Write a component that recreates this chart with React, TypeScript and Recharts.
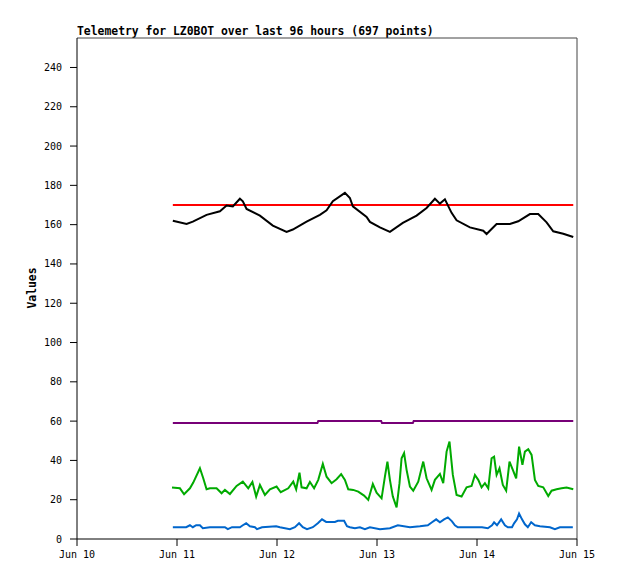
import React from "react"
import { LineChart, Line, XAxis, YAxis, ReferenceLine } from "recharts"

// x values are hours since Jun 10 00:00
const DAY_LABELS = ["Jun 10", "Jun 11", "Jun 12", "Jun 13", "Jun 14", "Jun 15"]
const X_TICKS = [0, 24, 48, 72, 96, 120]
const Y_TICKS = [0, 20, 40, 60, 80, 100, 120, 140, 160, 180, 200, 220, 240]

const LIMIT_HOURS = [23, 119.1]
const LIMIT_VALUES = [170, 170]

const TEMP_HOURS = [
  23, 26.3, 27.8, 31.1, 34.3, 35.9, 37.4, 39.1, 39.8, 40.7, 43.9, 47, 50.3, 51.8,
  55.1, 58.3, 59.9, 61.4, 64.3, 65.5, 66.2, 69.5, 70.3, 72.7, 75.1, 78.2, 81.5,
  83.9, 85.9, 87.1, 88.3, 89.9, 91.1, 94.3, 97.5, 98.3, 100.7, 103.9, 105.9,
  108.7, 110.7, 112.7, 114.3, 116.7, 119.1,
]
const TEMP_VALUES = [
  162, 160.3, 161.5, 165, 166.8, 169.7, 169.3, 173.2, 171.9, 168, 164.6, 159.5,
  156.3, 157.5, 161.5, 165, 167.3, 171.9, 176.2, 173.6, 169.3, 163.9, 161.4,
  158.6, 156.3, 160.9, 164.6, 168.5, 173.2, 170.7, 172.9, 166, 162.2, 158.6,
  156.9, 155.2, 160.3, 160.3, 161.7, 165.4, 165.4, 161.2, 156.6, 155.4, 153.7,
]

const LEVEL_HOURS = [23, 57.7, 57.9, 73.0, 73.2, 80.6, 80.8, 119.1]
const LEVEL_VALUES = [59, 59, 60, 60, 59, 59, 60, 60]

const NOISE_HOURS = [
  22.8, 24.7, 25.7, 27.1, 27.9, 29.5, 30.3, 31.1, 31.9, 33.5, 34.7, 35.5, 36.7,
  38.3, 39.8, 41.1, 42.1, 43, 43.9, 45.1, 46.3, 47.9, 48.9, 50.7, 51.9, 52.6,
  53.4, 53.9, 55.1, 55.9, 56.9, 57.9, 59, 59.9, 61.1, 62.3, 63.4, 64.3, 65.1,
  66.3, 67.5, 68.9, 69.9, 71, 71.9, 73.1, 73.9, 74.5, 75.1, 75.8, 76.7, 77.4,
  77.9, 78.5, 79.1, 79.9, 80.7, 81.9, 83.1, 83.9, 85.1, 85.9, 87.1, 87.9, 88.7,
  89.4, 90.2, 91.1, 92.3, 93.5, 94.7, 95.5, 96.3, 97.1, 97.9, 98.7, 99.5, 100.1,
  100.7, 101.4, 102.2, 103, 103.8, 104.6, 105.4, 106.1, 106.9, 107.5, 108.3,
  109.1, 109.9, 110.7, 111.9, 113.1, 113.9, 115.1, 116.3, 117.5, 119.1,
]
const NOISE_VALUES = [
  26.2, 25.8, 22.8, 25.8, 28.7, 36, 30.9, 25.3, 25.8, 25.8, 23.3, 25, 22.9, 27,
  29.2, 25.8, 29, 21.6, 27.5, 22.4, 25.3, 26.7, 23.8, 25.8, 29.2, 25.3, 33.8,
  26.3, 25.8, 29, 25.8, 30.1, 38.2, 31.7, 28.4, 30.4, 33, 30.1, 25.3, 25, 24.1,
  22.1, 19.9, 28, 23.6, 20.7, 31.7, 39.4, 30.1, 21.6, 16.1, 28.4, 41.1, 43.7,
  35.2, 26.7, 24.6, 29.2, 39.4, 30.9, 25, 30.1, 33.1, 28.4, 44.5, 49.6, 32.6,
  22.4, 21.6, 26.3, 27, 32.6, 30.1, 26.3, 28.4, 25.8, 41.1, 41.9, 32.6, 36, 27.5,
  24.6, 39.4, 35.2, 30.9, 47, 37.7, 44.5, 45.7, 42.8, 30.1, 27, 26.3, 21.9, 24.6,
  25.3, 25.8, 26.2, 25.3,
]

const LOW_HOURS = [
  23, 26.2, 27.1, 27.8, 28.6, 29.5, 30.2, 31.9, 35.5, 36.2, 37.2, 39.1, 39.8,
  40.6, 41.5, 42.7, 43.2, 44.4, 47.8, 48.7, 51.1, 52.3, 53.3, 54.2, 55.2, 56.6,
  57.8, 58.8, 59.8, 61.9, 62.6, 64.1, 64.8, 65.5, 66.7, 67.9, 69.1, 70.3, 72.7,
  75.1, 77, 79.9, 82.3, 84.2, 85.2, 86.2, 87.1, 88.1, 89, 90, 90.7, 91.4, 94.3,
  97.2, 98.6, 99.6, 100.1, 100.8, 101.8, 102.7, 103.4, 104.4, 104.9, 105.6,
  106.1, 106.8, 107.5, 108.2, 109, 109.9, 111.1, 113.5, 114.7, 115.9, 119,
]
const LOW_VALUES = [
  6, 6, 7, 6, 7, 7, 5.5, 6, 6, 5, 6, 6, 7, 8, 6.5, 6, 5, 6, 6.5, 6, 5, 6, 8, 6, 5,
  6, 8, 10, 8.7, 8.7, 9.3, 9.3, 6.5, 6, 5.5, 6, 5, 6, 5, 5.5, 7, 6, 6.5, 7, 8.5,
  10, 8.5, 10, 11, 9, 7, 6, 6, 6, 5.5, 7, 8.5, 7, 10, 7, 6, 6, 8, 10, 13, 10, 7.5,
  6, 8.5, 7, 6.5, 6, 5, 6, 6,
]

const pairs = (hours: number[], values: number[]) =>
  hours.map((t, i) => ({ t, v: values[i] }))

const tickFont = { fontFamily: "DejaVu Sans Mono", fontSize: 10, fill: "#000" }

export default function App() {
  return (
    <div style={{ position: "absolute", left: 0, top: 0, width: 618, height: 579, background: "#fff" }}>
      <div
        style={{
          position: "absolute",
          left: 77,
          top: 24,
          fontFamily: "DejaVu Sans Mono",
          fontWeight: "bold",
          fontSize: 11.4,
          whiteSpace: "nowrap",
          lineHeight: "14px",
        }}
      >
        Telemetry for LZ0BOT over last 96 hours (697 points)
      </div>
      <div
        style={{
          position: "absolute",
          left: 32,
          top: 288,
          transform: "translate(-50%, -50%) rotate(-90deg)",
          fontFamily: "DejaVu Sans Mono",
          fontWeight: "bold",
          fontSize: 11.4,
          whiteSpace: "nowrap",
        }}
      >
        Values
      </div>
      <LineChart width={618} height={579} margin={{ top: 38, right: 41, bottom: 10, left: 0 }}>
        <XAxis
          dataKey="t"
          type="number"
          domain={[0, 120]}
          ticks={X_TICKS}
          allowDataOverflow
          tickFormatter={(v) => DAY_LABELS[X_TICKS.indexOf(v)]}
          tick={tickFont}
          tickSize={7}
          tickMargin={5}
          stroke="#000"
          height={30}
        />
        <YAxis
          type="number"
          domain={[0, 255]}
          ticks={Y_TICKS}
          allowDataOverflow
          tick={tickFont}
          tickSize={7}
          tickMargin={8}
          stroke="#000"
          width={77}
        />
        <ReferenceLine y={255} stroke="#444" strokeWidth={1} />
        <ReferenceLine x={120} stroke="#444" strokeWidth={1} />
        <Line data={pairs(LIMIT_HOURS, LIMIT_VALUES)} dataKey="v" stroke="#ff0000" strokeWidth={2} dot={false} isAnimationActive={false} />
        <Line data={pairs(TEMP_HOURS, TEMP_VALUES)} dataKey="v" stroke="#000000" strokeWidth={2} dot={false} isAnimationActive={false} />
        <Line data={pairs(LEVEL_HOURS, LEVEL_VALUES)} dataKey="v" stroke="#770077" strokeWidth={2} dot={false} isAnimationActive={false} />
        <Line data={pairs(NOISE_HOURS, NOISE_VALUES)} dataKey="v" stroke="#00aa00" strokeWidth={2} dot={false} isAnimationActive={false} />
        <Line data={pairs(LOW_HOURS, LOW_VALUES)} dataKey="v" stroke="#0066cc" strokeWidth={2} dot={false} isAnimationActive={false} />
      </LineChart>
    </div>
  )
}
